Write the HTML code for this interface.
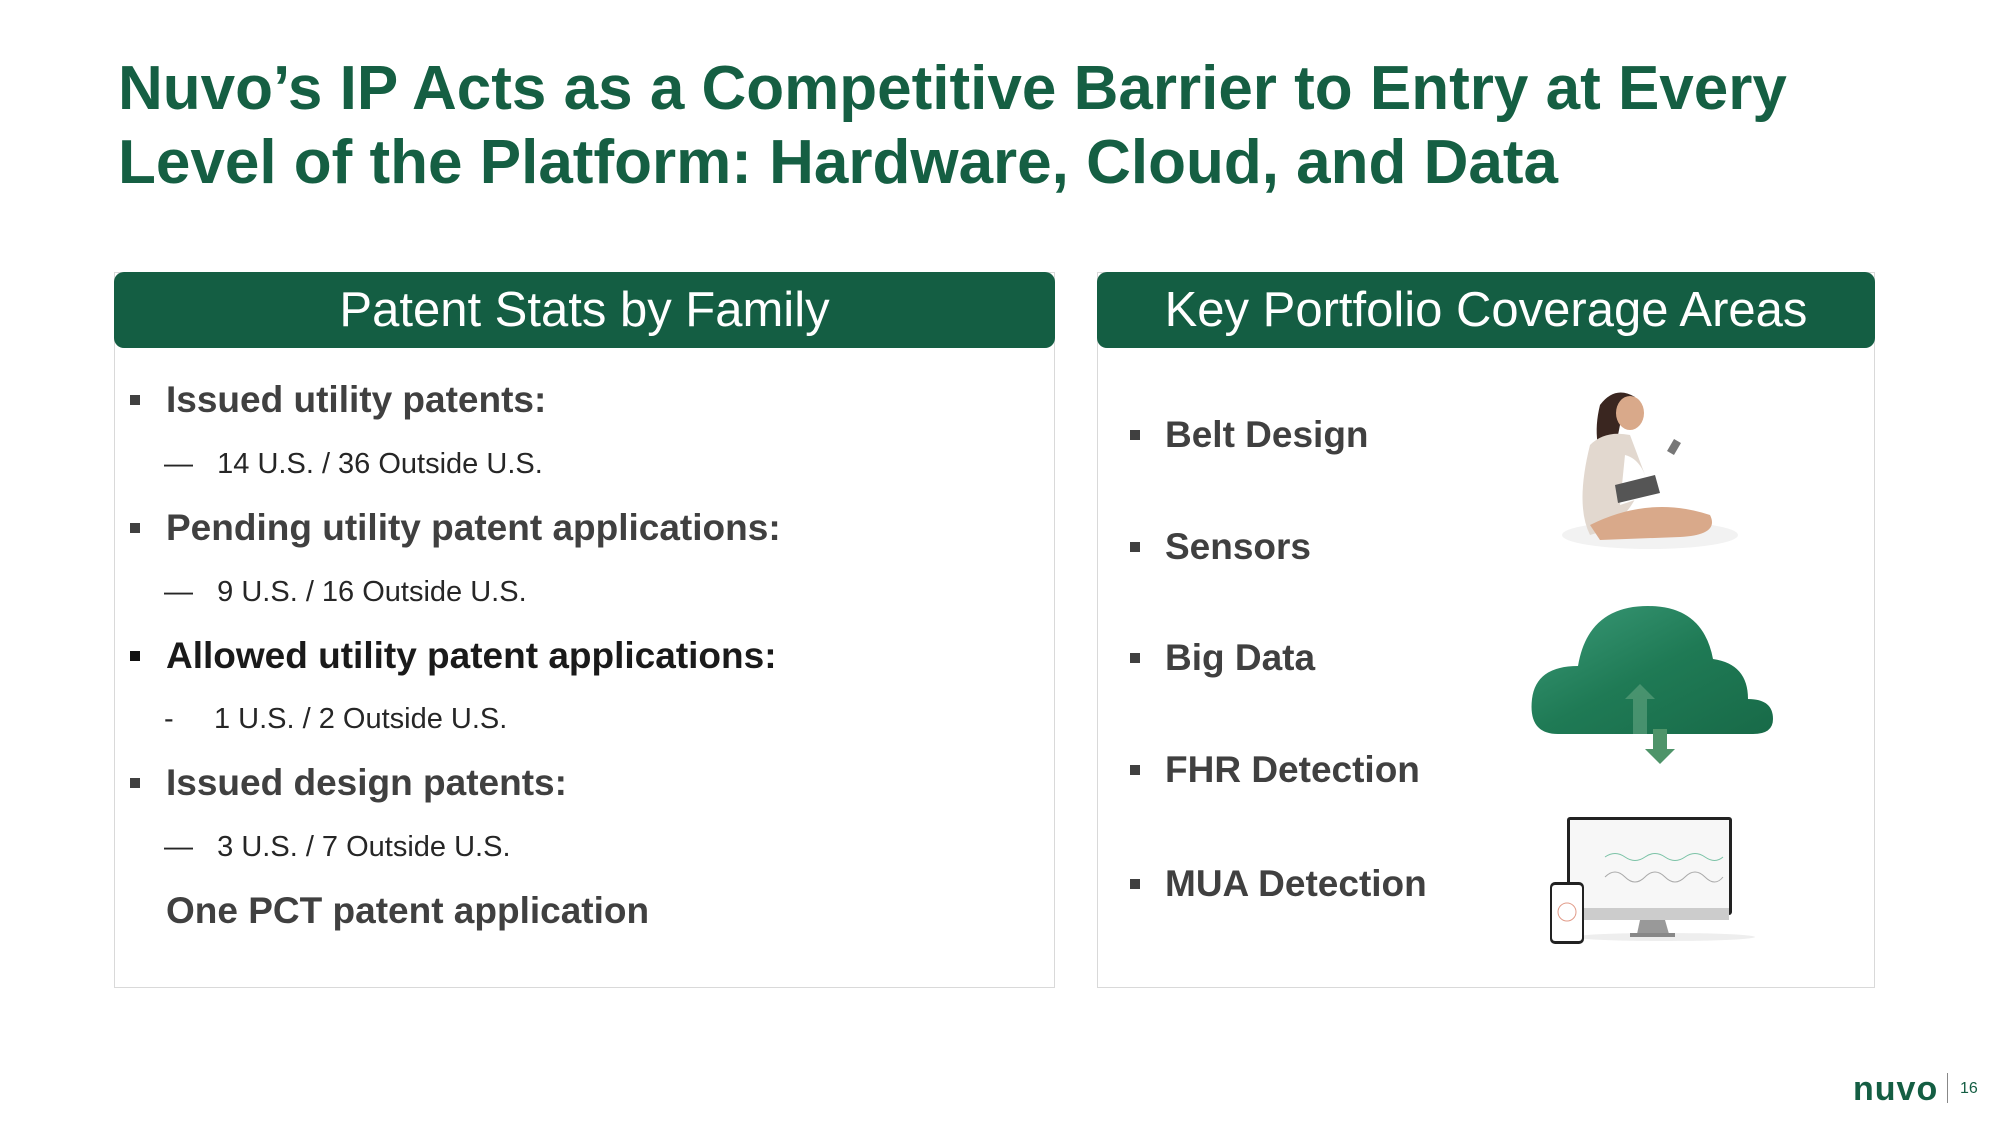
<!DOCTYPE html>
<html><head><meta charset="utf-8"><style>
*{margin:0;padding:0;box-sizing:border-box}
body{width:2000px;height:1123px;background:#fff;position:relative;overflow:hidden;font-family:"Liberation Sans",Arial,sans-serif}
.a{position:absolute;white-space:nowrap}
.t{color:#155f43;font-weight:bold;font-size:62px;left:118px;line-height:74px}
.panel{position:absolute;border:1px solid #d9d9d9;background:#fff}
.hdr{position:absolute;background:#145e43;border-radius:10px;color:#fff;font-size:49px;text-align:center;line-height:76px}
.b{font-weight:bold;font-size:37px;color:#404040;line-height:44px}
.sq{position:absolute;width:10px;height:10px;background:#404040}
.s{font-family:"Liberation Sans",sans-serif;font-size:29px;color:#262626;line-height:36px}
.r{font-weight:bold;font-size:37px;color:#404040;line-height:44px}
</style></head><body>
<div class="a t" style="top:52px">Nuvo’s IP Acts as a Competitive Barrier to Entry at Every</div>
<div class="a t" style="top:126px">Level of the Platform: Hardware, Cloud, and Data</div>

<div class="panel" style="left:114px;top:272px;width:941px;height:716px"></div>
<div class="hdr" style="left:114px;top:272px;width:941px;height:76px">Patent Stats by Family</div>
<div class="panel" style="left:1097px;top:272px;width:778px;height:716px"></div>
<div class="hdr" style="left:1097px;top:272px;width:778px;height:76px">Key Portfolio Coverage Areas</div>

<div class="sq" style="left:130px;top:395px"></div>
<div class="a b" style="left:166px;top:378px">Issued utility patents:</div>
<div class="a s" style="left:164px;top:446px">—&nbsp;&nbsp;&nbsp;14 U.S. / 36 Outside U.S.</div>
<div class="sq" style="left:130px;top:523px"></div>
<div class="a b" style="left:166px;top:506px">Pending utility patent applications:</div>
<div class="a s" style="left:164px;top:574px">—&nbsp;&nbsp;&nbsp;9 U.S. / 16 Outside U.S.</div>
<div class="sq" style="left:130px;top:651px;background:#111"></div>
<div class="a b" style="left:166px;top:634px;color:#1a1a1a">Allowed utility patent applications:</div>
<div class="a s" style="left:164px;top:701px">-&nbsp;&nbsp;&nbsp;&nbsp;&nbsp;1 U.S. / 2 Outside U.S.</div>
<div class="sq" style="left:130px;top:778px"></div>
<div class="a b" style="left:166px;top:761px">Issued design patents:</div>
<div class="a s" style="left:164px;top:829px">—&nbsp;&nbsp;&nbsp;3 U.S. / 7 Outside U.S.</div>
<div class="a b" style="left:166px;top:889px">One PCT patent application</div>

<div class="sq" style="left:1130px;top:430px"></div><div class="a r" style="left:1165px;top:413px">Belt Design</div>
<div class="sq" style="left:1130px;top:542px"></div><div class="a r" style="left:1165px;top:525px">Sensors</div>
<div class="sq" style="left:1130px;top:653px"></div><div class="a r" style="left:1165px;top:636px">Big Data</div>
<div class="sq" style="left:1130px;top:765px"></div><div class="a r" style="left:1165px;top:748px">FHR Detection</div>
<div class="sq" style="left:1130px;top:879px"></div><div class="a r" style="left:1165px;top:862px">MUA Detection</div>

<!-- woman -->
<svg class="a" style="left:1560px;top:385px" width="180" height="170" viewBox="0 0 180 170">
<ellipse cx="90" cy="150" rx="88" ry="14" fill="#f2f2f2"/>
<path d="M40 20 Q55 0 75 12 Q70 30 60 40 L50 90 Q30 60 40 20Z" fill="#3a2620"/>
<ellipse cx="70" cy="28" rx="14" ry="17" fill="#d9a98a"/>
<path d="M30 60 Q45 45 70 50 L85 90 Q70 140 30 150 Q15 120 30 60Z" fill="#e2d8cf"/>
<path d="M65 70 Q85 75 90 110 L60 120Z" fill="#fff"/>
<path d="M55 100 L95 90 L100 108 L58 118Z" fill="#555"/>
<path d="M30 140 Q90 110 150 130 Q160 150 120 152 L40 155Z" fill="#d9a98a"/>
<rect x="110" y="55" width="8" height="14" fill="#777" transform="rotate(30 114 62)"/>
</svg>
<!-- cloud -->
<svg class="a" style="left:1528px;top:604px" width="250" height="165" viewBox="0 0 250 165">
<defs><linearGradient id="g" x1="0" y1="0" x2="1" y2="1"><stop offset="0" stop-color="#3b9a78"/><stop offset="0.5" stop-color="#1f7a55"/><stop offset="1" stop-color="#186a48"/></linearGradient></defs>
<path d="M30 130 Q0 130 4 95 Q8 62 50 62 Q60 2 120 2 Q175 2 185 55 Q220 60 220 95 Q245 95 245 115 Q245 130 225 130Z" fill="url(#g)"/>
<path d="M105 130 L105 95 L97 95 L112 80 L127 95 L119 95 L119 130Z" fill="#5a9e7a" opacity="0.7"/>
<path d="M125 125 L139 125 L139 145 L147 145 L132 160 L117 145 L125 145Z" fill="#4e9469"/>
</svg>
<!-- monitor -->
<svg class="a" style="left:1545px;top:812px" width="215" height="135" viewBox="0 0 215 135">
<ellipse cx="120" cy="125" rx="90" ry="4" fill="#eee"/>
<rect x="22" y="5" width="165" height="98" rx="3" fill="#222"/>
<rect x="25" y="8" width="159" height="88" fill="#f7f7f7"/>
<rect x="25" y="96" width="159" height="12" fill="#ccc"/>
<path d="M95 108 L120 108 L124 122 L92 122Z" fill="#999"/>
<rect x="85" y="121" width="45" height="4" fill="#888"/>
<path d="M60 45 Q70 38 80 45 T100 45 T120 45 T140 45 T160 45 T178 45" stroke="#7cc3a7" fill="none"/>
<path d="M60 65 Q70 55 80 65 T100 65 T120 65 T140 65 T160 65 T178 65" stroke="#aaa" fill="none"/>
<rect x="5" y="70" width="34" height="62" rx="5" fill="#222"/>
<rect x="7" y="73" width="30" height="56" rx="3" fill="#fff"/>
<circle cx="22" cy="100" r="9" fill="none" stroke="#e29c8a"/>
</svg>

<div class="a" style="left:1853px;top:1070px;font-size:34px;font-weight:bold;color:#145e43;letter-spacing:1px">nuvo</div>
<div class="a" style="left:1947px;top:1073px;width:1px;height:30px;background:#888"></div>
<div class="a" style="left:1960px;top:1080px;font-size:16px;color:#145e43">16</div>
</body></html>
